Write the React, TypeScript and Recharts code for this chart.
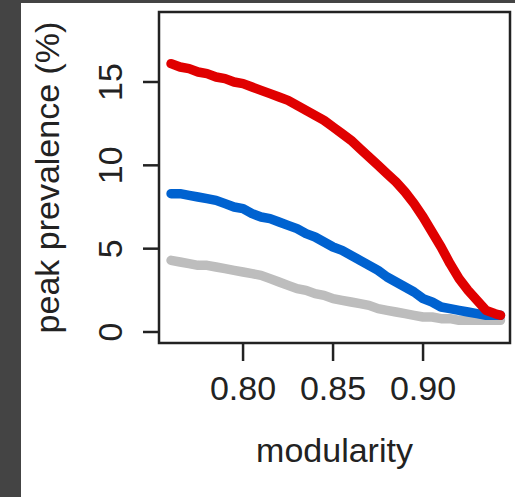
import { LineChart, Line, XAxis, YAxis, ReferenceArea } from "recharts";

const modularity = [
  0.760, 0.765, 0.770, 0.775, 0.780, 0.785, 0.790, 0.795, 0.800, 0.805,
  0.810, 0.815, 0.820, 0.825, 0.830, 0.835, 0.840, 0.845, 0.850, 0.855,
  0.860, 0.865, 0.870, 0.875, 0.880, 0.885, 0.890, 0.895, 0.900, 0.905,
  0.910, 0.915, 0.920, 0.925, 0.930, 0.935, 0.940, 0.943,
];

const redValues = [
  16.1, 15.9, 15.8, 15.6, 15.5, 15.3, 15.2, 15.0, 14.9, 14.7,
  14.5, 14.3, 14.1, 13.9, 13.6, 13.3, 13.0, 12.7, 12.3, 11.9,
  11.5, 11.0, 10.5, 10.0, 9.5, 9.0, 8.4, 7.7, 6.9, 6.0,
  5.1, 4.1, 3.2, 2.5, 1.9, 1.3, 1.1, 1.0,
];

const blueValues = [
  8.3, 8.3, 8.2, 8.1, 8.0, 7.9, 7.7, 7.5, 7.4, 7.1,
  6.9, 6.8, 6.6, 6.4, 6.2, 5.9, 5.7, 5.4, 5.1, 4.9,
  4.6, 4.3, 4.0, 3.7, 3.3, 3.0, 2.7, 2.4, 2.0, 1.8,
  1.5, 1.4, 1.3, 1.2, 1.1, 1.0, 1.0, 1.0,
];

const grayValues = [
  4.3, 4.2, 4.1, 4.0, 4.0, 3.9, 3.8, 3.7, 3.6, 3.5,
  3.4, 3.2, 3.0, 2.8, 2.6, 2.5, 2.3, 2.2, 2.0, 1.9,
  1.8, 1.7, 1.6, 1.4, 1.3, 1.2, 1.1, 1.0, 0.9, 0.9,
  0.8, 0.8, 0.7, 0.7, 0.7, 0.7, 0.7, 0.7,
];

const xTicks = [0.8, 0.85, 0.9];
const yTicks = [0, 5, 10, 15];
const xDomain: [number, number] = [0.7533, 0.9483];
const yDomain: [number, number] = [-0.66, 19.2];

const font = "'Liberation Sans', Arial, Helvetica, sans-serif";
const ink = "#222";

const data = modularity.map((m, i) => ({
  m,
  red: redValues[i],
  blue: blueValues[i],
  gray: grayValues[i],
}));

/* eslint-disable @typescript-eslint/no-explicit-any */
function XTick(props: any) {
  const { x, y, payload } = props;
  return (
    <text x={x} y={y} textAnchor="middle" fontSize={34} fontFamily={font} fill={ink}>
      {payload.value.toFixed(2)}
    </text>
  );
}

function YTick(props: any) {
  const { x, y, payload } = props;
  return (
    <text
      x={x}
      y={y}
      textAnchor="middle"
      fontSize={34}
      fontFamily={font}
      fill={ink}
      transform={`rotate(-90 ${x} ${y})`}
    >
      {payload.value}
    </text>
  );
}

function XTitle(props: any) {
  const vb = props.viewBox;
  return (
    <text x={vb.x + vb.width / 2} y={462} textAnchor="middle" fontSize={34} fontFamily={font} fill={ink}>
      modularity
    </text>
  );
}

function YTitle(props: any) {
  const vb = props.viewBox;
  const cy = vb.y + vb.height / 2;
  return (
    <text x={59} y={cy} textAnchor="middle" fontSize={34} fontFamily={font} fill={ink} transform={`rotate(-90 59 ${cy})`}>
      peak prevalence (%)
    </text>
  );
}
/* eslint-enable @typescript-eslint/no-explicit-any */

export default function App() {
  return (
    <div style={{ position: "absolute", left: 0, top: 0, width: 515, height: 497, background: "#444" }}>
      <div style={{ position: "absolute", left: 21, top: 3, width: 494, height: 494, background: "#fff" }} />
      <div style={{ position: "absolute", left: 0, top: 0 }}>
        <LineChart width={515} height={497} data={data} margin={{ top: 12, right: 5, left: 0, bottom: 0 }}>
          <XAxis
            dataKey="m"
            type="number"
            domain={xDomain}
            allowDataOverflow
            ticks={xTicks}
            height={154}
            axisLine={false}
            tickLine={{ stroke: ink, strokeWidth: 2.5 }}
            tickSize={18}
            tickMargin={39}
            tick={XTick}
            label={XTitle}
          />
          <YAxis
            type="number"
            domain={yDomain}
            allowDataOverflow
            ticks={yTicks}
            width={159}
            axisLine={false}
            tickLine={{ stroke: ink, strokeWidth: 2.5 }}
            tickSize={16}
            tickMargin={21}
            tick={YTick}
            label={YTitle}
          />
          <Line dataKey="gray" stroke="#bdbdbd" strokeWidth={9.5} dot={false} type="linear" strokeLinecap="round" strokeLinejoin="round" isAnimationActive={false} />
          <Line dataKey="blue" stroke="#0062d0" strokeWidth={9.5} dot={false} type="linear" strokeLinecap="round" strokeLinejoin="round" isAnimationActive={false} />
          <Line dataKey="red" stroke="#e00000" strokeWidth={9.5} dot={false} type="linear" strokeLinecap="round" strokeLinejoin="round" isAnimationActive={false} />
          <ReferenceArea
            x1={xDomain[0]}
            x2={xDomain[1]}
            y1={yDomain[0]}
            y2={yDomain[1]}
            fill="none"
            stroke={ink}
            strokeWidth={2.5}
            ifOverflow="visible"
          />
        </LineChart>
      </div>
    </div>
  );
}
